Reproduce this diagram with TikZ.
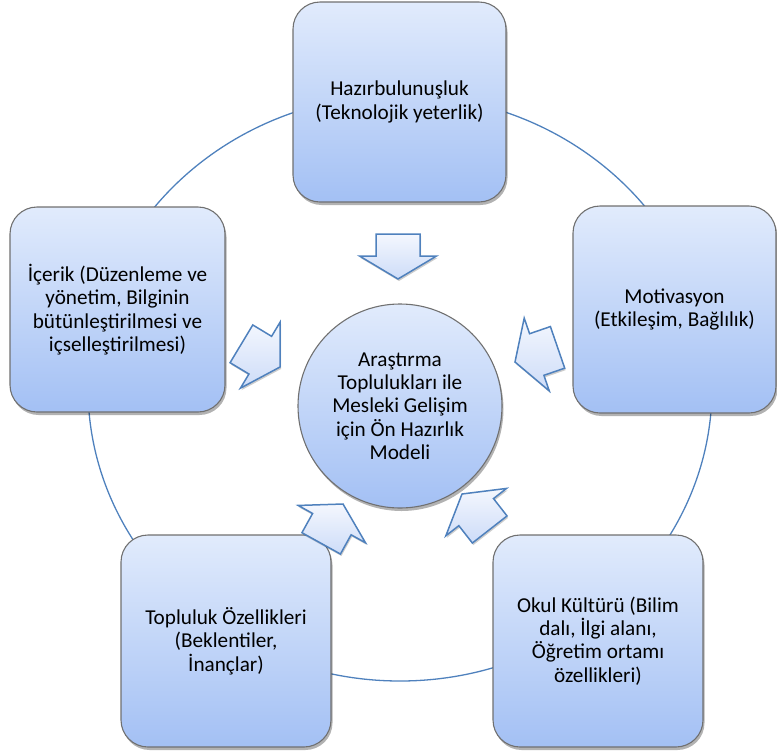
\documentclass[tikz,border=0pt]{standalone}
\usepackage{fontspec}
\setmainfont{Carlito}
\usetikzlibrary{shadows}
\definecolor{ringblue}{RGB}{79,129,189}
\definecolor{boxgray}{RGB}{112,112,112}
\definecolor{boxtop}{RGB}{225,235,252}
\definecolor{boxbot}{RGB}{163,192,244}
\definecolor{arrtop}{RGB}{244,247,254}
\definecolor{arrbot}{RGB}{205,220,248}
\tikzset{
  box/.style={draw=boxgray, line width=1.1pt, rounded corners=27pt,
    top color=boxtop, bottom color=boxbot, align=center, inner sep=0pt,
    font=\fontsize{21.2}{23.3}\selectfont,
    drop shadow={shadow xshift=1.5pt, shadow yshift=-3pt, opacity=0.3, fill=black}},
  hub/.style={circle, draw=boxgray, line width=1.1pt, minimum size=204pt,
    top color=boxtop, bottom color=boxbot, align=center, inner sep=0pt,
    font=\fontsize{21.2}{23.3}\selectfont,
    drop shadow={shadow xshift=1.5pt, shadow yshift=-3pt, opacity=0.3, fill=black}},
  ringline/.style={draw=ringblue, line width=1.3pt},
  arrowshape/.style={draw=ringblue, line width=1.5pt, line join=miter,
    top color=arrtop, bottom color=arrbot,
    drop shadow={shadow xshift=1pt, shadow yshift=-2pt, opacity=0.2, fill=black}},
  blockarrow/.pic={\path[arrowshape] (0,0) -- (-23,38.5) -- (-23,22) -- (-45,22)
      -- (-45,-22) -- (-23,-22) -- (-23,-38.5) -- cycle;}
}
\begin{document}
\begin{tikzpicture}[x=1pt,y=-1pt]
\useasboundingbox (0,0) rectangle (777,753);
% ring
\draw[ringline] (400,388) ellipse [x radius=312pt, y radius=293pt];
% boxes
\node[box, minimum width=213pt, minimum height=200pt] (top) at (399.5,102)
  {Hazırbulunuşluk\\(Teknolojik yeterlik)};
\node[box, minimum width=215pt, minimum height=205pt] (left) at (117.5,309.5)
  {İçerik (Düzenleme ve\\yönetim, Bilginin\\bütünleştirilmesi ve\\içselleştirilmesi)};
\node[box, minimum width=203pt, minimum height=207pt] (right) at (674.5,309.5)
  {Motivasyon\\(Etkileşim, Bağlılık)};
\node[box, minimum width=210pt, minimum height=212pt] (bl) at (226,641)
  {Topluluk Özellikleri\\(Beklentiler,\\İnançlar)};
\node[box, minimum width=210pt, minimum height=212pt] (br) at (598,641)
  {Okul Kültürü (Bilim\\dalı, İlgi alanı,\\Öğretim ortamı\\özellikleri)};
% hub
\node[hub] (hub) at (400,406)
  {Araştırma\\Toplulukları ile\\Mesleki Gelişim\\için Ön Hazırlık\\Modeli};
% arrows
\pic[rotate=270] at (398,279) {blockarrow};
\pic[rotate=199] at (515,362) {blockarrow};
\pic[rotate=-31] at (280,367) {blockarrow};
\pic[rotate=61] at (343,504) {blockarrow};
\pic[rotate=128] at (462,494) {blockarrow};
\end{tikzpicture}
\end{document}
